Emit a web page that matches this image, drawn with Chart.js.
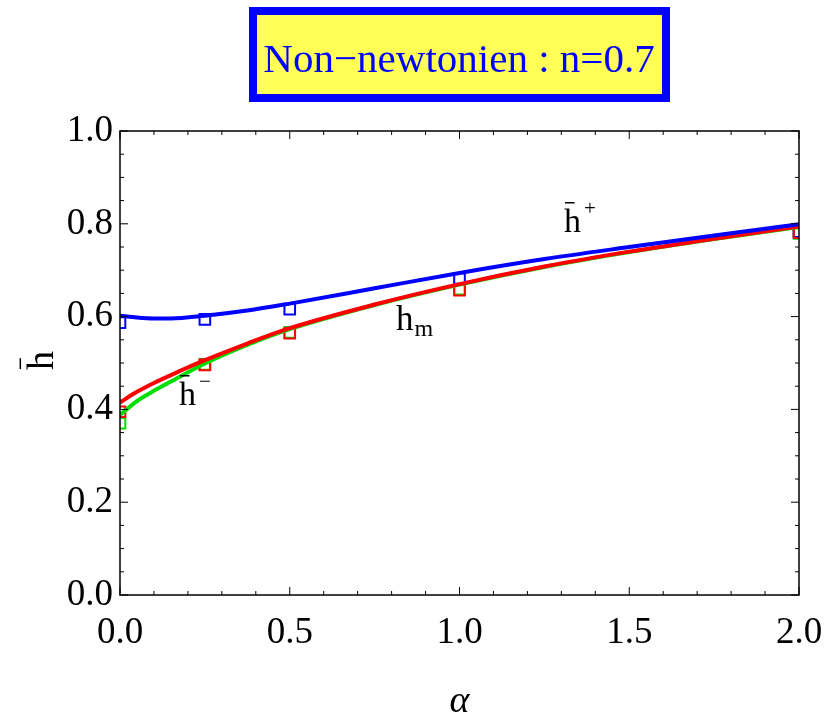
<!DOCTYPE html>
<html>
<head>
<meta charset="utf-8">
<script src="https://cdn.jsdelivr.net/npm/chart.js@4.4.1/dist/chart.umd.min.js"></script>
<style>
html, body { margin: 0; padding: 0; background: #fff; }
</style>
</head>
<body>
<canvas id="chart" width="827" height="717"></canvas>
<script>
// curves (solid lines)
const alphaGrid = [0, 0.05, 0.1, 0.15, 0.25, 0.375, 0.5, 0.75, 1.0, 1.25, 1.5, 1.75, 2.0];
const hPlus  = [0.602, 0.598, 0.596, 0.596, 0.602, 0.613, 0.628, 0.661, 0.694, 0.724, 0.750, 0.775, 0.799];
const hMean  = [0.415, 0.438, 0.457, 0.474, 0.506, 0.542, 0.575, 0.626, 0.670, 0.708, 0.740, 0.768, 0.794];
const hMinus = [0.388, 0.418, 0.440, 0.460, 0.499, 0.539, 0.573, 0.625, 0.669, 0.707, 0.739, 0.767, 0.793];

// square markers
const alphaPts   = [0, 0.25, 0.5, 1.0, 2.0];
const hPlusPts   = [0.587, 0.594, 0.616, 0.682, 0.783];
const hMeanPts   = [0.395, 0.496, 0.564, 0.657, 0.781];
const hMinusPts  = [0.370, 0.497, 0.566, 0.659, 0.779];

const xTicks = [0, 0.5, 1.0, 1.5, 2.0];
const yTicks = [0, 0.2, 0.4, 0.6, 0.8, 1.0];
const titleText = 'Non\u2212newtonien : n=0.7';

const BLUE = '#0000ff', RED = '#ff0000', GREEN = '#00dd00';
const serif = '"Liberation Serif", "DejaVu Serif", serif';

const pts = (xs, ys) => xs.map((x, i) => ({x, y: ys[i]}));

function lineSet(label, data, color, order) {
    return {
        label, data: pts(alphaGrid, data), showLine: true, borderColor: color, borderWidth: 4,
        pointRadius: 0, cubicInterpolationMode: 'monotone', fill: false, order
    };
}
function markSet(label, data, color, order) {
    return {
        label, data: pts(alphaPts, data), showLine: false, pointStyle: 'rect',
        pointRadius: 7.5, pointBorderWidth: 2, pointBorderColor: color,
        pointBackgroundColor: 'rgba(0,0,0,0)', order
    };
}

function drawH(ctx, x, base, size, bar, sup, sub) {
    ctx.font = size + 'px ' + serif;
    ctx.textAlign = 'left';
    ctx.textBaseline = 'alphabetic';
    ctx.fillText('h', x, base);
    const w = ctx.measureText('h').width;
    if (bar) {
        ctx.lineWidth = 1.5;
        ctx.beginPath();
        ctx.moveTo(x + 1, base - size * 0.86);
        ctx.lineTo(x + w * 0.62, base - size * 0.86);
        ctx.stroke();
    }
    if (sup) {
        ctx.font = Math.round(size * 0.62) + 'px ' + serif;
        ctx.fillText(sup, x + w + 3, base - size * 0.5);
    }
    if (sub) {
        ctx.font = Math.round(size * 0.68) + 'px ' + serif;
        ctx.fillText(sub, x + w + 1, base + 6);
    }
}

const decor = {
    id: 'decor',
    afterDraw(chart) {
        const ctx = chart.ctx;
        const a = chart.chartArea;
        const xs = chart.scales.x, ys = chart.scales.y;
        ctx.save();
        // frame
        ctx.strokeStyle = '#000';
        ctx.lineWidth = 1.5;
        ctx.strokeRect(a.left, a.top, a.right - a.left, a.bottom - a.top);
        // inside ticks
        ctx.lineWidth = 1;
        ctx.beginPath();
        for (let i = 0; i <= 20; i++) {
            const px = xs.getPixelForValue(i / 10);
            const len = i % 5 === 0 ? 8 : 4;
            ctx.moveTo(px, a.bottom); ctx.lineTo(px, a.bottom - len);
            ctx.moveTo(px, a.top); ctx.lineTo(px, a.top + len);
        }
        for (let i = 0; i <= 20; i++) {
            const py = ys.getPixelForValue(i / 20);
            const len = i % 4 === 0 ? 8 : 4;
            ctx.moveTo(a.left, py); ctx.lineTo(a.left + len, py);
            ctx.moveTo(a.right, py); ctx.lineTo(a.right - len, py);
        }
        ctx.stroke();

        // title box
        ctx.fillStyle = '#ffff55';
        ctx.fillRect(249, 7, 421, 95);
        ctx.strokeStyle = BLUE;
        ctx.lineWidth = 8;
        ctx.strokeRect(253, 11, 413, 87);
        ctx.fillStyle = BLUE;
        ctx.font = '41px ' + serif;
        ctx.textAlign = 'center';
        ctx.textBaseline = 'alphabetic';
        ctx.fillText(titleText, 459, 72);

        // curve labels
        ctx.fillStyle = '#000';
        ctx.strokeStyle = '#000';
        drawH(ctx, 564, 232, 34, true, '+', null);
        drawH(ctx, 396, 330, 35, false, null, 'm');
        drawH(ctx, 179, 405, 34, true, '\u2212', null);

        // y axis title (rotated h with bar)
        ctx.translate(53, 360);
        ctx.rotate(-Math.PI / 2);
        drawH(ctx, -10, 0, 38, true, null, null);
        ctx.restore();
    }
};

new Chart(document.getElementById('chart'), {
    type: 'scatter',
    data: {
        datasets: [
            lineSet('h-', hMinus, GREEN, 3),
            lineSet('hm', hMean, RED, 2),
            lineSet('h+', hPlus, BLUE, 1),
            markSet('h- pts', hMinusPts, GREEN, 6),
            markSet('h+ pts', hPlusPts, BLUE, 5),
            markSet('hm pts', hMeanPts, RED, 4)
        ]
    },
    options: {
        responsive: false,
        animation: false,
        layout: { padding: { top: 131, right: 28, left: 0, bottom: 0 } },
        plugins: { legend: { display: false }, tooltip: { enabled: false } },
        scales: {
            x: {
                type: 'linear', min: 0, max: 2,
                afterBuildTicks: s => { s.ticks = xTicks.map(v => ({value: v})); },
                afterFit: s => { s.height = 122; s.paddingLeft = 0; s.paddingRight = 0; },
                grid: { display: false, drawTicks: false },
                border: { display: false },
                ticks: {
                    color: '#000', padding: 16, maxRotation: 0,
                    font: { family: serif, size: 37 },
                    callback: v => v.toFixed(1)
                },
                title: {
                    display: true, text: '\u03b1', color: '#000',
                    font: { family: serif, size: 38, style: 'italic' },
                    padding: { top: 0, bottom: -8 }
                }
            },
            y: {
                type: 'linear', min: 0, max: 1,
                afterBuildTicks: s => { s.ticks = yTicks.map(v => ({value: v})); },
                afterFit: s => { s.width = 120; s.paddingTop = 0; s.paddingBottom = 0; },
                grid: { display: false, drawTicks: false },
                border: { display: false },
                ticks: {
                    color: '#000', padding: 7,
                    font: { family: serif, size: 37 },
                    callback: v => v.toFixed(1)
                }
            }
        }
    },
    plugins: [decor]
});
</script>
</body>
</html>
